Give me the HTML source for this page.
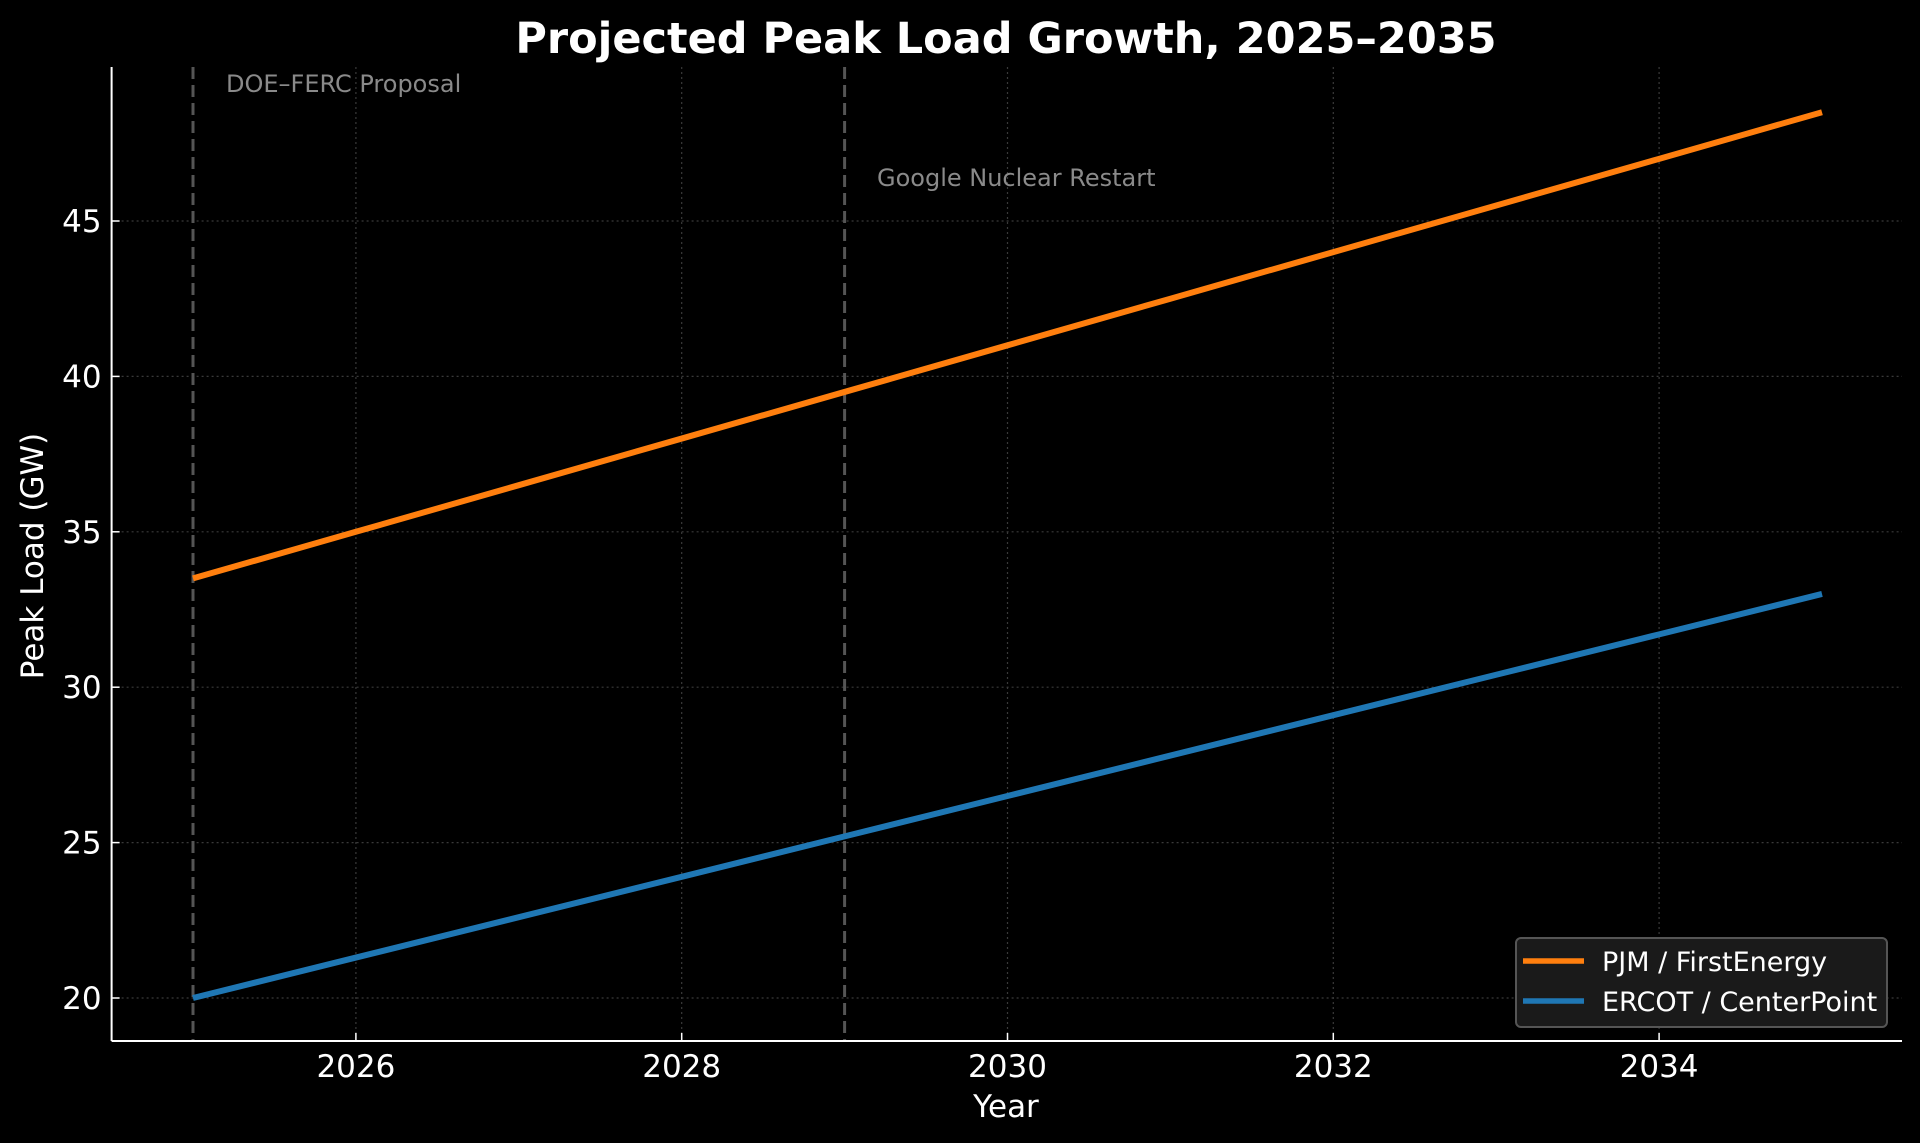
<!DOCTYPE html>
<html><head><meta charset="utf-8"><style>
html,body{margin:0;padding:0;background:#000;}
svg{display:block;font-family:"DejaVu Sans","Liberation Sans",sans-serif;}
</style></head><body>
<svg id="chart" width="1920" height="1143" viewBox="0 0 1920 1143">
<rect width="1920" height="1143" fill="#000"/>
<text x="1006" y="53" fill="#fff" font-size="43" font-weight="bold" text-anchor="middle">Projected Peak Load Growth, 2025–2035</text>
<g id="grid"></g>
<g id="events"></g>
<g id="series"></g>
<g id="axes"></g>
<text x="1006" y="1117" fill="#fff" font-size="31" text-anchor="middle">Year</text>
<text transform="translate(43,556) rotate(-90)" fill="#fff" font-size="31" text-anchor="middle">Peak Load (GW)</text>
<g>
<rect x="1516" y="938" width="371" height="89" rx="5" fill="#1a1a1a" stroke="#555" stroke-width="2"/>
<line x1="1523" y1="961" x2="1584" y2="961" stroke="#ff7f0e" stroke-width="5.5"/>
<text x="1602" y="971" fill="#fff" font-size="27">PJM / FirstEnergy</text>
<line x1="1523" y1="1001" x2="1584" y2="1001" stroke="#1f77b4" stroke-width="5.5"/>
<text x="1602" y="1011" fill="#fff" font-size="27">ERCOT / CenterPoint</text>
</g>
</svg>
<script>
const years = [2025,2026,2027,2028,2029,2030,2031,2032,2033,2034,2035];
const pjmValues = [33.5,35,36.5,38,39.5,41,42.5,44,45.5,47,48.5];
const ercotValues = [20,21.3,22.6,23.9,25.2,26.5,27.8,29.1,30.4,31.7,33];
const xTickLabels = ["2026","2028","2030","2032","2034"];
const yTickLabels = ["20","25","30","35","40","45"];
const eventYears = [2025,2029];
const eventLabels = ["DOE–FERC Proposal","Google Nuclear Restart"];

const NS = "http://www.w3.org/2000/svg";
const L = 111.6, R = 1902, T = 67, B = 1041;
function xs(y){ return 193 + (y - 2025) * 162.9; }
function ys(v){ return 221 + (45 - v) * 31.08; }
function mk(tag, attrs, parent, txt){
  const e = document.createElementNS(NS, tag);
  for (const k in attrs) e.setAttribute(k, attrs[k]);
  if (txt !== undefined) e.textContent = txt;
  parent.appendChild(e); return e;
}
const grid = document.getElementById('grid');
const axes = document.getElementById('axes');
xTickLabels.forEach(t => {
  const x = xs(+t);
  const g = mk('line', {x1:x, y1:T, x2:x, y2:B, stroke:'#3a3a3a', 'stroke-width':1.2, 'stroke-dasharray':'2,3'}, grid);
  
  
  const tk = mk('line', {x1:x, y1:B, x2:x, y2:B-8, stroke:'#fff', 'stroke-width':1.5}, axes);
  
  
  const lb = mk('text', {x:x, y:B+36, fill:'#fff', 'font-size':31, 'text-anchor':'middle'}, axes, t);
  
  
});
yTickLabels.forEach(t => {
  const y = ys(+t);
  const g = mk('line', {x1:L, y1:y, x2:R, y2:y, stroke:'#3a3a3a', 'stroke-width':1.2, 'stroke-dasharray':'2,3'}, grid);
  
  
  const tk = mk('line', {x1:L, y1:y, x2:L+8, y2:y, stroke:'#fff', 'stroke-width':1.5}, axes);
  
  
  const lb = mk('text', {x:L-10, y:y+11, fill:'#fff', 'font-size':31, 'text-anchor':'end'}, axes, t);
  
  
});
const ax1 = mk('line', {x1:L, y1:T, x2:L, y2:B, stroke:'#fff', 'stroke-width':2}, axes);


const ax2 = mk('line', {x1:L, y1:B, x2:R, y2:B, stroke:'#fff', 'stroke-width':2}, axes);



const ev = document.getElementById('events');
const labelPos = [[226, 92], [877, 186]];
eventYears.forEach((yr, i) => {
  const x = xs(yr);
  const l = mk('line', {x1:x, y1:T, x2:x, y2:B, stroke:'#555', 'stroke-width':3, 'stroke-dasharray':'12,6'}, ev);
  
  
  const t = mk('text', {x:labelPos[i][0], y:labelPos[i][1], fill:'#8a8a8a', 'font-size':24}, ev, eventLabels[i]);
  
  
});

const ser = document.getElementById('series');
function drawLine(vals, color, name){
  const pts = years.map((y, i) => xs(y) + ',' + ys(vals[i])).join(' ');
  const p = mk('polyline', {points:pts, fill:'none', stroke:color, 'stroke-width':6, 'stroke-linejoin':'round'}, ser);
  
  
}
drawLine(pjmValues, '#ff7f0e', 'pjm-line');
drawLine(ercotValues, '#1f77b4', 'ercot-line');
</script>
</body></html>
